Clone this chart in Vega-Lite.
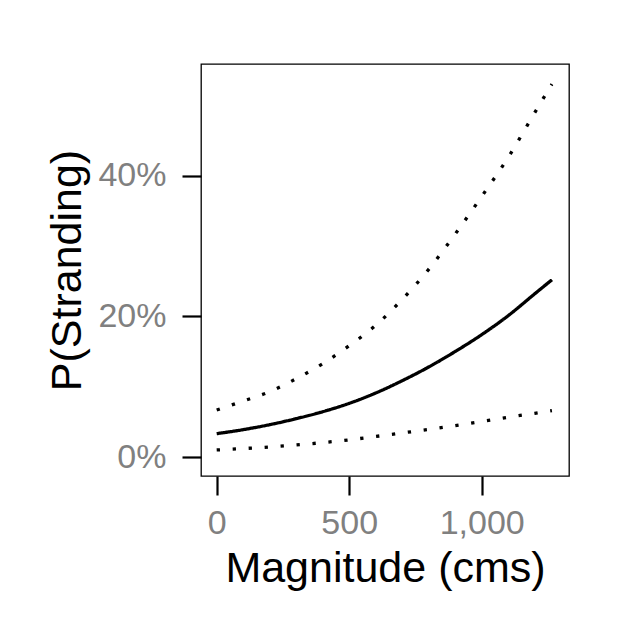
{
  "$schema": "https://vega.github.io/schema/vega-lite/v6.json",
  "autosize": {"type": "none"},
  "padding": {"left": 201, "top": 64, "right": 64, "bottom": 157},
  "width": 368,
  "height": 412,
  "background": "white",
  "config": {
    "view": {"stroke": "black", "strokeWidth": 1.3},
    "font": "Liberation Sans"
  },
  "data": {
    "values": [
      {"magnitude": 0, "p": 0.0332, "series": "fit", "style": "solid"},
      {"magnitude": 100, "p": 0.0389, "series": "fit", "style": "solid"},
      {"magnitude": 200, "p": 0.0460, "series": "fit", "style": "solid"},
      {"magnitude": 300, "p": 0.0545, "series": "fit", "style": "solid"},
      {"magnitude": 400, "p": 0.0644, "series": "fit", "style": "solid"},
      {"magnitude": 500, "p": 0.0763, "series": "fit", "style": "solid"},
      {"magnitude": 600, "p": 0.0910, "series": "fit", "style": "solid"},
      {"magnitude": 700, "p": 0.1085, "series": "fit", "style": "solid"},
      {"magnitude": 800, "p": 0.1280, "series": "fit", "style": "solid"},
      {"magnitude": 900, "p": 0.1500, "series": "fit", "style": "solid"},
      {"magnitude": 1000, "p": 0.1740, "series": "fit", "style": "solid"},
      {"magnitude": 1100, "p": 0.2010, "series": "fit", "style": "solid"},
      {"magnitude": 1200, "p": 0.2320, "series": "fit", "style": "solid"},
      {"magnitude": 1265, "p": 0.2520, "series": "fit", "style": "solid"},
      {"magnitude": 0, "p": 0.0668, "series": "upper", "style": "dotted"},
      {"magnitude": 100, "p": 0.0796, "series": "upper", "style": "dotted"},
      {"magnitude": 200, "p": 0.0929, "series": "upper", "style": "dotted"},
      {"magnitude": 300, "p": 0.1113, "series": "upper", "style": "dotted"},
      {"magnitude": 400, "p": 0.1327, "series": "upper", "style": "dotted"},
      {"magnitude": 500, "p": 0.1583, "series": "upper", "style": "dotted"},
      {"magnitude": 600, "p": 0.1872, "series": "upper", "style": "dotted"},
      {"magnitude": 700, "p": 0.2241, "series": "upper", "style": "dotted"},
      {"magnitude": 800, "p": 0.2668, "series": "upper", "style": "dotted"},
      {"magnitude": 900, "p": 0.3170, "series": "upper", "style": "dotted"},
      {"magnitude": 1000, "p": 0.3705, "series": "upper", "style": "dotted"},
      {"magnitude": 1100, "p": 0.4260, "series": "upper", "style": "dotted"},
      {"magnitude": 1200, "p": 0.4895, "series": "upper", "style": "dotted"},
      {"magnitude": 1265, "p": 0.5302, "series": "upper", "style": "dotted"},
      {"magnitude": 0, "p": 0.0100, "series": "lower", "style": "dotted"},
      {"magnitude": 100, "p": 0.0120, "series": "lower", "style": "dotted"},
      {"magnitude": 200, "p": 0.0143, "series": "lower", "style": "dotted"},
      {"magnitude": 300, "p": 0.0172, "series": "lower", "style": "dotted"},
      {"magnitude": 400, "p": 0.0205, "series": "lower", "style": "dotted"},
      {"magnitude": 500, "p": 0.0244, "series": "lower", "style": "dotted"},
      {"magnitude": 600, "p": 0.0292, "series": "lower", "style": "dotted"},
      {"magnitude": 700, "p": 0.0342, "series": "lower", "style": "dotted"},
      {"magnitude": 800, "p": 0.0393, "series": "lower", "style": "dotted"},
      {"magnitude": 900, "p": 0.0447, "series": "lower", "style": "dotted"},
      {"magnitude": 1000, "p": 0.0505, "series": "lower", "style": "dotted"},
      {"magnitude": 1100, "p": 0.0565, "series": "lower", "style": "dotted"},
      {"magnitude": 1200, "p": 0.0622, "series": "lower", "style": "dotted"},
      {"magnitude": 1265, "p": 0.0660, "series": "lower", "style": "dotted"}
    ]
  },
  "mark": {"type": "line", "color": "black", "strokeWidth": 3.3, "strokeCap": "butt", "interpolate": "monotone"},
  "encoding": {
    "x": {
      "field": "magnitude", "type": "quantitative",
      "scale": {"domain": [-59.2, 1329.4], "nice": false, "zero": false},
      "axis": {
        "title": "Magnitude (cms)", "values": [0, 500, 1000], "format": ",d",
        "grid": false, "domain": false,
        "tickSize": 19, "tickWidth": 2.2, "tickColor": "black",
        "labelFontSize": 34, "labelColor": "#808080", "labelPadding": 11,
        "titleFontSize": 43, "titleFontWeight": "normal", "titleColor": "black", "titlePadding": 7
      }
    },
    "y": {
      "field": "p", "type": "quantitative",
      "scale": {"domain": [-0.027, 0.5588], "nice": false, "zero": false},
      "axis": {
        "title": "P(Stranding)", "values": [0, 0.2, 0.4], "format": ".0%",
        "grid": false, "domain": false,
        "tickSize": 19, "tickWidth": 2.2, "tickColor": "black",
        "labelFontSize": 34, "labelColor": "#808080", "labelPadding": 16,
        "titleFontSize": 43, "titleFontWeight": "normal", "titleColor": "black", "titlePadding": 8
      }
    },
    "detail": {"field": "series"},
    "strokeDash": {
      "field": "style", "type": "nominal",
      "scale": {"domain": ["solid", "dotted"], "range": [[1, 0], [3.3, 12.7]]},
      "legend": null
    }
  }
}
